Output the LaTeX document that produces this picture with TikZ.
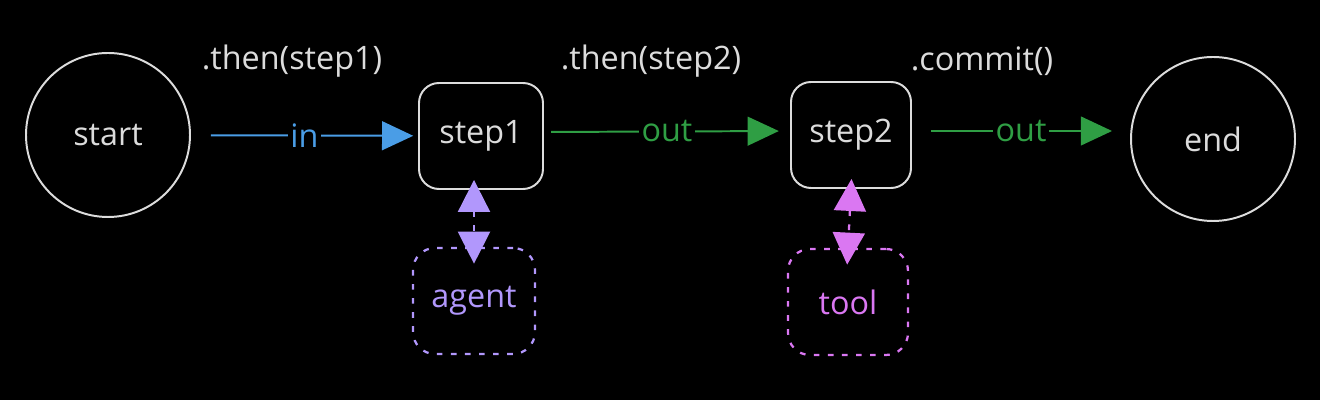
\documentclass[tikz,border=0pt]{standalone}
\usepackage{fontspec}
\setmainfont{Open Sans}
\usetikzlibrary{positioning, arrows.meta}
\definecolor{chalk}{HTML}{DCDCDC}
\definecolor{flowblue}{HTML}{4A9DE6}
\definecolor{flowgreen}{HTML}{2F9E44}
\definecolor{agentpurple}{HTML}{B197FC}
\definecolor{toolpink}{HTML}{DA77F2}

\begin{document}
\begin{tikzpicture}[terminal/.style={circle, draw=chalk, line width=1.4pt, minimum size=4.1cm, text=chalk},
                    stepbox/.style={rectangle, rounded corners=0.5cm, draw=chalk, line width=1.4pt, minimum width=3.1cm, minimum height=2.65cm, text=chalk},
                    helper/.style={rectangle, rounded corners=0.55cm, draw, line width=1.6pt, dash pattern=on 4pt off 6pt, minimum width=3cm, minimum height=2.65cm},
                    flow/.style={line width=1.4pt, -{Triangle[length=0.78cm, width=0.72cm]}},
                    link/.style={line width=1.6pt, dash pattern=on 4pt off 6pt, {Triangle[length=0.8cm, width=0.8cm]}-{Triangle[length=0.8cm, width=0.8cm]}},
                    flowlabel/.style={fill=black, inner sep=2pt},
                    call/.style={text=chalk},
                    font=\fontsize{23}{27}\selectfont]
      \fill[black] (0,0) rectangle (33,10);
      \useasboundingbox (0,0) rectangle (33,10);

      \node[terminal] (start) at (2.7,6.625) {start};
      \node[stepbox] (step1) at (12.025,6.6) {step1};
      \node[stepbox, minimum width=3cm] (step2) at (21.275,6.625) {step2};
      \node[terminal] (end) at (30.325,6.525) {end};

      \node[helper, agentpurple, minimum width=3.05cm] (agent) at (11.85,2.475) {agent};
      \node[helper, toolpink] (tool) at (21.2,2.45) {tool};

      \node[call] (then1) at (7.3,8.475) {.then(step1)};
      \node[call] (then2) at (16.275,8.475) {.then(step2)};
      \node[call] (commit) at (24.55,8.475) {.commit()};

      \draw[flow, flowblue, shorten <=0.5cm, shorten >=0.12cm] (start) -- node[flowlabel] {in} (step1);
      \draw[flow, flowgreen, shorten <=0.18cm, shorten >=0.28cm] ([yshift=0.1cm]step1.east) -- node[flowlabel] {out} ([yshift=0.1cm]step2.west);
      \draw[flow, flowgreen, shorten <=0.48cm, shorten >=0.45cm] ([yshift=0.1cm]step2.east) -- node[flowlabel] {out} ([yshift=0.2cm]end.west);

      \draw[link, agentpurple, shorten <=-0.25cm, shorten >=-0.42cm] (agent.north |- step1.south) -- (agent.north);
      \draw[link, toolpink, shorten <=-0.25cm, shorten >=-0.42cm] (step2.south) -- (tool.north);
\end{tikzpicture}
\end{document}
